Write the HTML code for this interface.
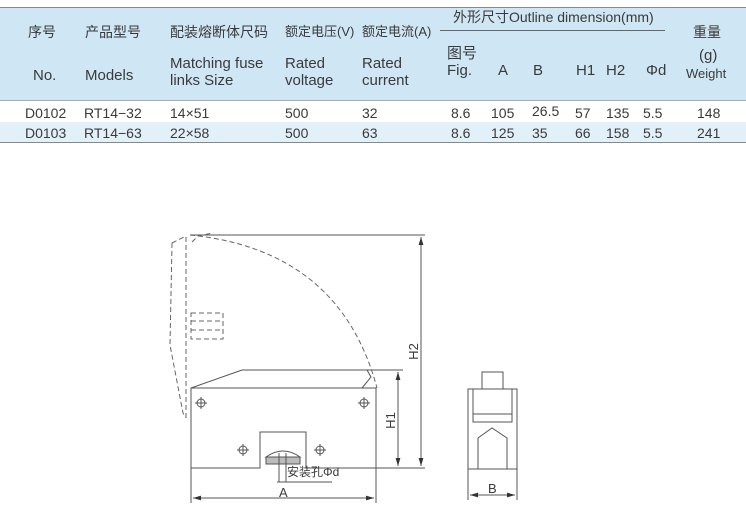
<!DOCTYPE html>
<html><head><meta charset="utf-8"><style>
body{margin:0;background:#fff;width:746px;height:519px;position:relative;overflow:hidden;font-family:"Liberation Sans","Noto Sans CJK SC",sans-serif;color:#3a3a3a}
.t{position:absolute;white-space:nowrap;line-height:1}
.h{font-size:14px}
.e{font-size:15px;line-height:17px}
.d{font-size:14px}
</style></head><body>
<div style="position:absolute;left:0;top:7px;width:746px;height:93px;background:#cfe6f5;border-top:1px solid #888"></div>
<div style="position:absolute;left:0;top:100px;width:746px;height:1px;background:#aaa"></div>
<div style="position:absolute;left:0;top:122px;width:746px;height:20px;background:#e2f0fa"></div>
<div style="position:absolute;left:0;top:142px;width:746px;height:1px;background:#888"></div>
<div style="position:absolute;left:440px;top:30px;width:225px;height:1px;background:#666"></div>

<div class="t h" style="left:28px;top:25px">序号</div>
<div class="t h" style="left:85px;top:25px">产品型号</div>
<div class="t h" style="left:170px;top:25px">配装熔断体尺码</div>
<div class="t h" style="left:285px;top:25px;font-size:13px">额定电压(V)</div>
<div class="t h" style="left:362px;top:25px;font-size:13px">额定电流(A)</div>
<div class="t h" style="left:453px;top:10px">外形尺寸Outline dimension(mm)</div>
<div class="t h" style="left:693px;top:25px">重量</div>

<div class="t e" style="left:33px;top:67px">No.</div>
<div class="t e" style="left:85px;top:67px">Models</div>
<div class="t e" style="left:170px;top:55px">Matching fuse<br>links Size</div>
<div class="t e" style="left:285px;top:55px">Rated<br>voltage</div>
<div class="t e" style="left:362px;top:55px">Rated<br>current</div>
<div class="t e" style="left:447px;top:45px">图号<br>Fig.</div>
<div class="t e" style="left:498px;top:62px">A</div>
<div class="t e" style="left:533px;top:62px">B</div>
<div class="t e" style="left:576px;top:62px">H1</div>
<div class="t e" style="left:606px;top:62px">H2</div>
<div class="t e" style="left:646px;top:62px">Φd</div>
<div class="t e" style="left:699px;top:47px">(g)</div>
<div class="t" style="left:686px;top:67px;font-size:13px">Weight</div>

<div class="t d" style="left:25px;top:106px">D0102</div>
<div class="t d" style="left:84px;top:106px">RT14−32</div>
<div class="t d" style="left:170px;top:106px">14×51</div>
<div class="t d" style="left:285px;top:106px">500</div>
<div class="t d" style="left:362px;top:106px">32</div>
<div class="t d" style="left:451px;top:106px">8.6</div>
<div class="t d" style="left:491px;top:106px">105</div>
<div class="t d" style="left:532px;top:104px">26.5</div>
<div class="t d" style="left:575px;top:106px">57</div>
<div class="t d" style="left:606px;top:106px">135</div>
<div class="t d" style="left:643px;top:106px">5.5</div>
<div class="t d" style="left:697px;top:106px">148</div>

<div class="t d" style="left:25px;top:126px">D0103</div>
<div class="t d" style="left:84px;top:126px">RT14−63</div>
<div class="t d" style="left:170px;top:126px">22×58</div>
<div class="t d" style="left:285px;top:126px">500</div>
<div class="t d" style="left:362px;top:126px">63</div>
<div class="t d" style="left:451px;top:126px">8.6</div>
<div class="t d" style="left:491px;top:126px">125</div>
<div class="t d" style="left:532px;top:126px">35</div>
<div class="t d" style="left:575px;top:126px">66</div>
<div class="t d" style="left:606px;top:126px">158</div>
<div class="t d" style="left:643px;top:126px">5.5</div>
<div class="t d" style="left:697px;top:126px">241</div>

<svg width="746" height="519" style="position:absolute;left:0;top:0" fill="none" stroke="#555" stroke-width="1">
<defs><marker id="a" viewBox="0 0 10 6" refX="10" refY="3" markerWidth="8" markerHeight="5" orient="auto-start-reverse"><path d="M0 0L10 3L0 6z" fill="#333" stroke="none"/></marker></defs>
<g stroke-dasharray="5,3" stroke="#666">
<path d="M190 235 Q340 250 377 388"/>
<path d="M172 243 L170 345 L183 413 L186 418"/>
<path d="M172 243 L184 237"/>
<path d="M186 237 L186 418"/>
<path d="M192 242 L198 236 L213 233"/>
<rect x="191" y="313" width="32" height="26"/>
<path d="M191 321 H223 M191 330 H223"/>
</g>
<path d="M191 468 V388 H376 V468 H306 V432 H260 V468 Z"/>
<path d="M191 388 L242 370 H367 L371 377 L362 388"/>
<path d="M266 457 Q283 445 300 457 Z" fill="#fff"/>
<rect x="266" y="457" width="34" height="7" fill="#bbb"/>
<path d="M279 453 V482 M286 453 V482 M277 482 H332"/>
<g>
<circle cx="201" cy="403" r="4"/><path d="M195 403H207M201 397V409"/>
<circle cx="364" cy="403" r="4"/><path d="M358 403H370M364 397V409"/>
<circle cx="243" cy="450" r="4"/><path d="M237 450H249M243 444V456"/>
<circle cx="320" cy="450" r="4"/><path d="M314 450H326M320 444V456"/>
</g>
<path d="M190 235 H425 M367 370 H403 M376 468 H425"/>
<path d="M398 372 V466" marker-start="url(#a)" marker-end="url(#a)"/>
<path d="M421 237 V466" marker-start="url(#a)" marker-end="url(#a)"/>
<path d="M191 468 V503 M376 468 V503"/>
<path d="M193 498 H374" marker-start="url(#a)" marker-end="url(#a)"/>
<rect x="482" y="372" width="21" height="17"/>
<rect x="468" y="389" width="49" height="80"/>
<path d="M473 389 V422 H512 V389 M473 414 H512"/>
<path d="M478 469 V438 L492 428 L507 438 V469"/>
<path d="M468 469 V500 M517 469 V500"/>
<path d="M470 495 H515" marker-start="url(#a)" marker-end="url(#a)"/>
</svg>
<div class="t" style="left:287px;top:466px;font-size:12px">安装孔Φd</div>
<div class="t" style="left:279px;top:486px;font-size:13px">A</div>
<div class="t" style="left:488px;top:482px;font-size:13px">B</div>
<div class="t" style="left:382px;top:414px;font-size:13px;transform:rotate(-90deg)">H1</div>
<div class="t" style="left:405px;top:345px;font-size:13px;transform:rotate(-90deg)">H2</div>
</body></html>
